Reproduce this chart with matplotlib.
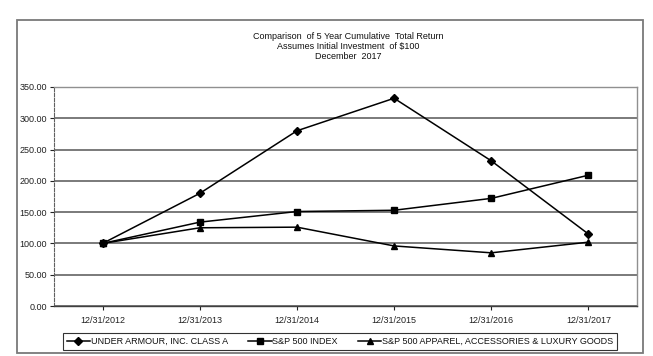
'''Five year cumulative total return comparison chart'''

import matplotlib
matplotlib.use("Agg")
import matplotlib.pyplot as plt
from matplotlib.patches import Rectangle

plt.rcParams['font.family'] = ['Liberation Sans', 'DejaVu Sans']

dates = ["12/31/2012", "12/31/2013", "12/31/2014",
         "12/31/2015", "12/31/2016", "12/31/2017"]
under_armour = [100, 180, 280, 332, 232, 115]
sp500 = [100, 134, 151, 153, 172, 209]
apparel = [100, 125, 126, 96, 85, 102]
y_ticks = [0, 50, 100, 150, 200, 250, 300, 350]

fig = plt.figure(figsize=(6.53, 3.56), dpi=100)
ax = fig.add_axes([54 / 653, 1 - 306 / 356, 583 / 653, 219 / 356])

# marco exterior
fig.patches.append(Rectangle((17 / 653, 1 - 353 / 356), 626 / 653, 333 / 356,
                             transform=fig.transFigure, fill=False,
                             edgecolor='#7a7a7a', linewidth=1.3))

x = list(range(len(dates)))
ax.plot(x, under_armour, color='black', lw=1.1, marker='D', ms=4,
        label='UNDER ARMOUR, INC. CLASS A')
ax.plot(x, sp500, color='black', lw=1.1, marker='s', ms=4.5,
        label='S&P 500 INDEX')
ax.plot(x, apparel, color='black', lw=1.1, marker='^', ms=5,
        label='S&P 500 APPAREL, ACCESSORIES & LUXURY GOODS')

ax.set_xlim(-0.5, len(dates) - 0.5)
ax.set_ylim(0, 350)
ax.set_yticks(y_ticks)
ax.set_yticklabels([f"{v:.2f}" for v in y_ticks])
ax.set_xticks(x)
ax.set_xticklabels(dates)
ax.tick_params(axis='both', labelsize=6.5, colors='#222222', length=3, width=0.8)
ax.tick_params(axis='x', pad=4)
ax.tick_params(axis='y', pad=2)

# cuadrícula
ax.yaxis.grid(True, color='#707070', linewidth=1.3)
ax.set_axisbelow(True)

for side in ['top', 'right']:
    ax.spines[side].set_color('#909090')
    ax.spines[side].set_linewidth(1.0)
ax.spines['left'].set_color('#606060')
ax.spines['left'].set_linestyle((0, (3, 1.5)))
ax.spines['left'].set_linewidth(0.8)
ax.spines['bottom'].set_color('#404040')
ax.spines['bottom'].set_linewidth(1.0)

fig.text(348 / 653, 1 - 46.5 / 356,
         "Comparison  of 5 Year Cumulative  Total Return\n"
         "Assumes Initial Investment  of $100\n"
         "December  2017",
         ha='center', va='center', fontsize=6.5, linespacing=1.15,
         color='#111111')

leg = fig.legend(loc='center', bbox_to_anchor=(340 / 653, 1 - 341.5 / 356),
                 ncol=3, fontsize=6.5, frameon=True, fancybox=False,
                 edgecolor='black', handlelength=2.6, handletextpad=0.1,
                 columnspacing=2.2, borderpad=0.45, borderaxespad=0)
leg.get_frame().set_linewidth(0.8)
for t in leg.get_texts():
    t.set_color('#111111')

plt.savefig("out.png", dpi=100)
